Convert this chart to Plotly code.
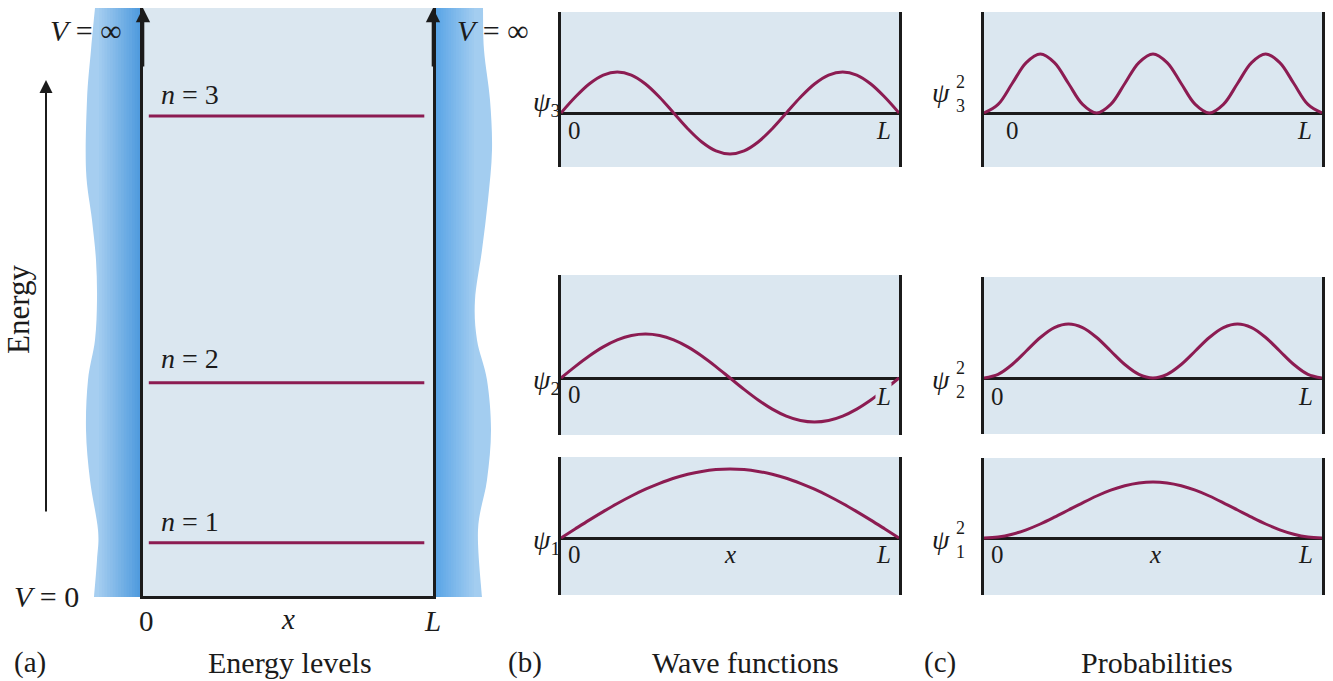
import plotly.graph_objects as go

W, H = 1333, 681

# ---------------- data ----------------
quantum_numbers = [1, 2, 3]
energy_levels = [1, 4, 9]              # E_n proportional to n^2
x_samples = [k / 24 for k in range(25)]  # x / L

# wave functions (height above axis, arbitrary units)
psi1 = [0, 9.0, 17.9, 26.4, 34.5, 42.0, 48.8, 54.7, 59.8, 63.7, 66.6, 68.4, 69,
        68.4, 66.6, 63.7, 59.8, 54.7, 48.8, 42.0, 34.5, 26.4, 17.9, 9.0, 0]
psi2 = [0, 11.4, 22, 31.1, 38.1, 42.5, 44, 42.5, 38.1, 31.1, 22, 11.4, 0,
        -11.4, -22, -31.1, -38.1, -42.5, -44, -42.5, -38.1, -31.1, -22, -11.4, 0]
psi3 = [0, 15.7, 29, 37.9, 41, 37.9, 29, 15.7, 0, -15.7, -29, -37.9, -41,
        -37.9, -29, -15.7, 0, 15.7, 29, 37.9, 41, 37.9, 29, 15.7, 0]

# probabilities
prob1 = [0, 1.0, 3.8, 8.2, 14, 20.8, 28, 35.2, 42, 47.8, 52.2, 55.0, 56,
         55.0, 52.2, 47.8, 42, 35.2, 28, 20.8, 14, 8.2, 3.8, 1.0, 0]
prob2 = [0, 3.6, 13.5, 27, 40.5, 50.4, 54, 50.4, 40.5, 27, 13.5, 3.6, 0,
         3.6, 13.5, 27, 40.5, 50.4, 54, 50.4, 40.5, 27, 13.5, 3.6, 0]
prob3 = [0, 8.6, 29.5, 50.4, 59, 50.4, 29.5, 8.6, 0, 8.6, 29.5, 50.4, 59,
         50.4, 29.5, 8.6, 0, 8.6, 29.5, 50.4, 59, 50.4, 29.5, 8.6, 0]

# ---------------- style ----------------
CURVE = "#8c1c52"
INK = "#1b1b1b"
PANEL = "#dbe7f0"
FONT = "Liberation Serif"


def px(x):
    return x / W


def py(y):
    return 1 - y / H


fig = go.Figure()

# ---------------- panel (a): energy levels ----------------
for n, E in zip(quantum_numbers, energy_levels):
    fig.add_trace(go.Scatter(x=[0.02, 0.97], y=[E, E], mode="lines",
                             line=dict(color=CURVE, width=3), xaxis="x", yaxis="y",
                             showlegend=False, hoverinfo="skip"))

# ---------------- panels (b) and (c) ----------------
panels = [
    (2, psi3, (561, 899), (12, 167), 113),
    (3, psi2, (561, 899), (275, 435), 378),
    (4, psi1, (561, 899), (457, 595), 538),
    (5, prob3, (984, 1322), (12, 167), 113),
    (6, prob2, (984, 1322), (277, 434), 378),
    (7, prob1, (984, 1322), (458, 595), 538),
]

layout_axes = {}
for idx, vals, (xl, xr), (yt, yb), y0 in panels:
    fig.add_trace(go.Scatter(x=x_samples, y=vals, mode="lines",
                             line=dict(color=CURVE, width=3, shape="spline", smoothing=1.0),
                             xaxis=f"x{idx}", yaxis=f"y{idx}", showlegend=False,
                             hoverinfo="skip"))
    layout_axes[f"xaxis{idx}"] = dict(domain=[px(xl), px(xr)], range=[0, 1],
                                      anchor=f"y{idx}", showgrid=False, zeroline=False,
                                      showticklabels=False, ticks="", showline=False,
                                      fixedrange=True)
    layout_axes[f"yaxis{idx}"] = dict(domain=[py(yb), py(yt)], range=[-(yb - y0), (y0 - yt)],
                                      anchor=f"x{idx}", showgrid=False, zeroline=True,
                                      zerolinecolor=INK, zerolinewidth=3,
                                      showticklabels=False, ticks="", showline=True,
                                      mirror=True, linecolor=INK, linewidth=3,
                                      fixedrange=True)

# ---------------- walls (decoration) ----------------
def smooth_path(points):
    segs = []
    n = len(points)
    for i in range(n - 1):
        p0 = points[i - 1] if i > 0 else points[i]
        p1 = points[i]
        p2 = points[i + 1]
        p3 = points[i + 2] if i + 2 < n else points[i + 1]
        c1 = (p1[0] + (p2[0] - p0[0]) / 6, p1[1] + (p2[1] - p0[1]) / 6)
        c2 = (p2[0] - (p3[0] - p1[0]) / 6, p2[1] - (p3[1] - p1[1]) / 6)
        segs.append(f"C{px(c1[0])},{py(c1[1])} {px(c2[0])},{py(c2[1])} {px(p2[0])},{py(p2[1])}")
    return " ".join(segs)


left_edge = [(95, 8), (91, 50), (87, 100), (86, 170), (92, 220), (96, 260), (97, 300),
             (95, 340), (88, 380), (86, 430), (90, 480), (98, 530), (97, 560), (94, 597)]
right_edge = [(483, 8), (484, 50), (490, 100), (492, 150), (488, 200), (482, 250), (475, 300),
              (477, 340), (487, 380), (491, 430), (487, 480), (478, 530), (482, 597)]

shapes = []
p = f"M{px(143)},{py(8)} L{px(left_edge[0][0])},{py(8)} " + smooth_path(left_edge) + \
    f" L{px(143)},{py(597)} Z"
shapes.append(dict(type="path", path=p, xref="paper", yref="paper",
                   fillcolor="#a6cef0", line=dict(width=0), layer="below"))
p = f"M{px(433)},{py(8)} L{px(right_edge[0][0])},{py(8)} " + smooth_path(right_edge) + \
    f" L{px(433)},{py(597)} Z"
shapes.append(dict(type="path", path=p, xref="paper", yref="paper",
                   fillcolor="#a3cdf0", line=dict(width=0), layer="below"))


def mix(c1, c2, t):
    a = [int(c1[i:i + 2], 16) for i in (1, 3, 5)]
    b = [int(c2[i:i + 2], 16) for i in (1, 3, 5)]
    return "#" + "".join(f"{round(a[j] + (b[j] - a[j]) * t):02x}" for j in range(3))


NSTRIP = 16
for i in range(NSTRIP):
    t = (i + 1) / NSTRIP
    xs = 99 + (143 - 99) * i / NSTRIP
    shapes.append(dict(type="rect", xref="paper", yref="paper", x0=px(xs), x1=px(143),
                       y0=py(597), y1=py(8), fillcolor=mix("#a6cef0", "#4b98dd", t),
                       line=dict(width=0), layer="below"))
    xe = 474 - (474 - 433) * i / NSTRIP
    shapes.append(dict(type="rect", xref="paper", yref="paper", x0=px(433), x1=px(xe),
                       y0=py(597), y1=py(8), fillcolor=mix("#a3cdf0", "#57a3e6", t),
                       line=dict(width=0), layer="below"))

# ---------------- annotations ----------------
ann = []


def label(text, x, y, size=26, **kw):
    d = dict(text=text, x=px(x), y=py(y), xref="paper", yref="paper", showarrow=False,
             font=dict(family=FONT, size=size, color=INK), xanchor="center", yanchor="middle")
    d.update(kw)
    ann.append(d)


for xw in (143, 433):
    ann.append(dict(x=px(xw), y=py(8), xref="paper", yref="paper", ax=0, ay=60,
                    showarrow=True, arrowhead=2, arrowsize=1.1, arrowwidth=2.6,
                    arrowcolor=INK, text=""))
ann.append(dict(x=px(46), y=py(80), xref="paper", yref="paper", ax=0, ay=433,
                showarrow=True, arrowhead=2, arrowsize=1.3, arrowwidth=2,
                arrowcolor=INK, text=""))

label("<i>V</i> = ∞", 86, 30, 30)
label("<i>V</i> = ∞", 493, 30, 30)
label("<i>V</i> = 0", 47, 596, 30)
label("Energy", 18, 310, 31, textangle=-90)
for n, yl in zip(quantum_numbers, (521, 358, 95)):
    label(f"<i>n</i> = {n}", 190, yl, 28)
label("0", 146, 621, 29)
label("<i>x</i>", 288, 619, 29)
label("<i>L</i>", 433, 621, 29)
label("(a)", 30, 662, 29)
label("Energy levels", 290, 662, 30)
label("(b)", 525, 662, 29)
label("Wave functions", 745, 662, 30)
label("(c)", 940, 662, 29)
label("Probabilities", 1157, 662, 30)

# panel (b) labels
for n, yl in zip((3, 2, 1), (104, 381, 541)):
    label(f"<i>ψ</i><sub>{n}</sub>", 546, yl, 28)
for y_ in (130, 395, 554):
    label("0", 574, y_, 25)
for y_ in (130, 554):
    label("<i>L</i>", 883, y_, 25)
label("<i>L</i>", 883, 396, 25, bgcolor=PANEL, borderpad=0)
label("<i>x</i>", 730, 554, 25)

# panel (c) labels (psi with stacked superscript 2 / subscript n)
for n, yl in zip((3, 2, 1), (92, 378, 538)):
    label("<i>ψ</i>", 941, yl + 1, 28)
    label("2", 961, yl + 2, 18, yanchor="bottom")
    label(f"{n}", 961, yl + 2, 18, yanchor="top")
label("0", 1012, 130, 25)
label("<i>L</i>", 1304, 130, 25)
label("0", 997, 396, 25)
label("<i>L</i>", 1305, 396, 25)
label("0", 997, 554, 25)
label("<i>x</i>", 1155, 554, 25)
label("<i>L</i>", 1305, 554, 25)

fig.update_layout(
    width=W, height=H, autosize=False,
    margin=dict(l=0, r=0, t=0, b=0),
    paper_bgcolor="white", plot_bgcolor=PANEL,
    showlegend=False,
    xaxis=dict(domain=[px(143), px(433)], range=[0, 1], anchor="y", showgrid=False,
               zeroline=False, showticklabels=False, ticks="", showline=True,
               linecolor=INK, linewidth=3, mirror=False, fixedrange=True),
    yaxis=dict(domain=[py(596), py(8)], range=[0, 588 / 53.33], anchor="x", showgrid=False,
               zeroline=False, showticklabels=False, ticks="", showline=True,
               linecolor=INK, linewidth=3, mirror=True, fixedrange=True),
    shapes=shapes,
    annotations=ann,
    **layout_axes,
)

fig.write_html("out.html", config={"displayModeBar": False},
               post_script="document.body.style.margin='0';document.body.style.overflow='hidden';")
